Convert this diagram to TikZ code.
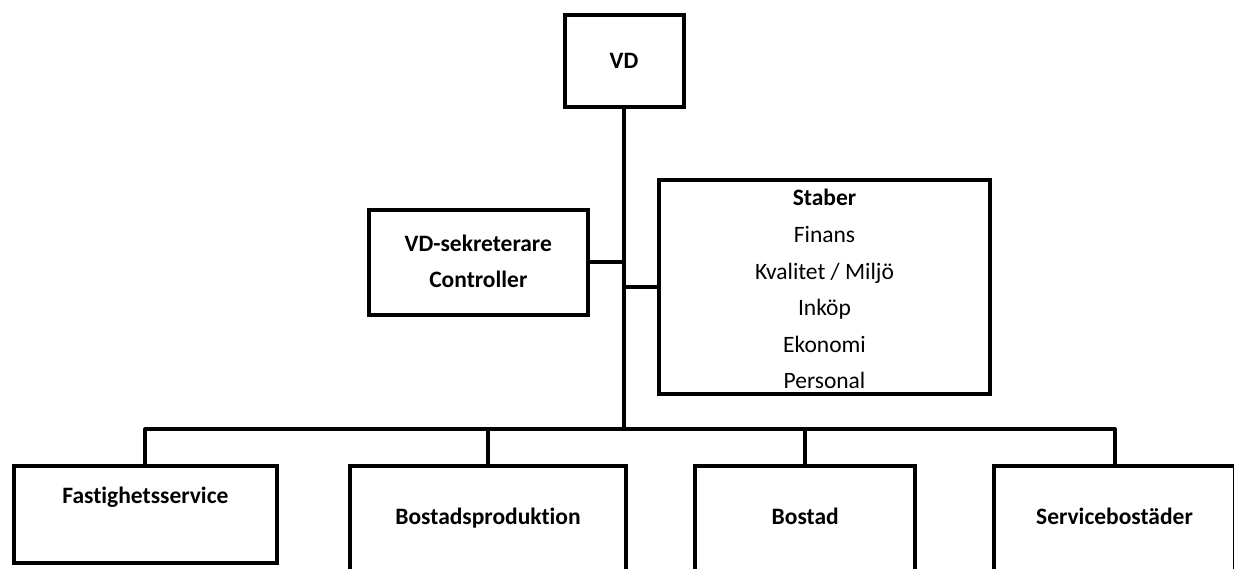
\documentclass[tikz,border=0pt]{standalone}
\usepackage{fontspec}
\setmainfont[Ligatures=NoCommon]{Carlito}
\tikzset{
    unit/.style={draw, line width=4pt, inner sep=0pt, align=center, font=\fontsize{23.5}{36.6}\selectfont\bfseries},
    open unit/.style={unit, minimum height=110, text height=17.5pt, text depth=10pt},
    link/.style={line width=4pt, line join=round}
}

\begin{document}
\begin{tikzpicture}[x=1pt, y=-1pt]
    \useasboundingbox (0,0) rectangle (1234,568);

    % Draw the top box
    \node[unit, minimum width=119, minimum height=92] (vd) at (624,61) {VD};

    % Draw the boxes beside the trunk
    \node[unit, minimum width=219, minimum height=105] (sekr) at (478.3,262.2)
        {VD-sekreterare\strut\\Controller\strut};
    \node[unit, minimum width=331, minimum height=214, font=\fontsize{23.5}{36.6}\selectfont] (staber) at (824.5,287)
        {\rule{0pt}{21pt}\textbf{Staber}\\Finans\\Kvalitet / Milj\"o\\Ink\"op\\Ekonomi\\Personal};

    % Draw the units at the bottom (they run off the page)
    \node[unit, minimum width=263, minimum height=97] (fast) at (145.4,514.5)
        {Fastighetsservice\strut\\\strut};
    \node[open unit, minimum width=276] (prod) at (488,520.5) {Bostadsproduktion};
    \node[open unit, minimum width=220.5] (bost) at (805.2,520.5) {Bostad};
    \node[open unit, minimum width=241] (serv) at (1114.5,520.5) {Servicebost\"ader};

    % Draw the trunk and the stubs
    \coordinate (bar) at (624,429);
    \draw[link] (vd.south) -- (bar);
    \draw[link] (sekr.east) -- (sekr.east -| bar);
    \draw[link] (staber.west) -- (staber.west -| bar);

    % Draw the bar over the units
    \draw[link] (fast.north) -- (fast.north |- bar) -- (serv.north |- bar) -- (serv.north);
    \foreach \n in {prod, bost}
        \draw[link] (\n.north) -- (\n.north |- bar);
\end{tikzpicture}
\end{document}
